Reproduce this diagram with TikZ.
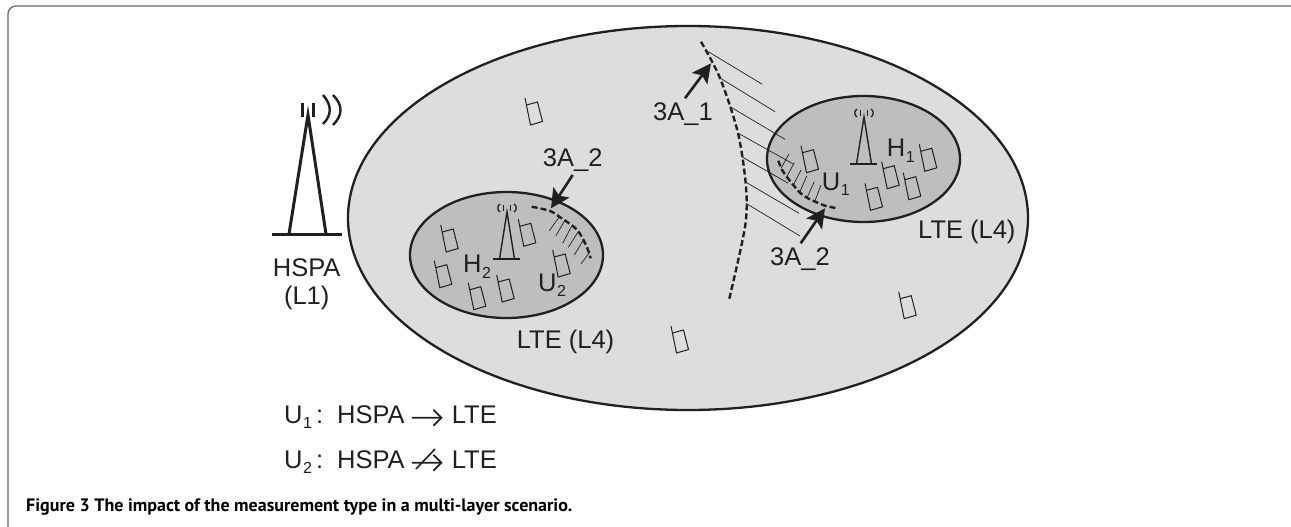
\documentclass[tikz,border=0pt]{standalone}
\usepackage{fontspec}
\setmainfont{Liberation Sans}
\newfontfamily\capfont{PT Sans}
\usetikzlibrary{arrows.meta}
\definecolor{lightg}{HTML}{DCDDDF}
\definecolor{darkg}{HTML}{BCBEC0}
\definecolor{ink}{HTML}{231F20}
\tikzset{
  x=1pt,y=-1pt,
  lab/.style={font=\fontsize{25.5}{28}\selectfont,text=ink,inner sep=0pt,anchor=base west},
  cell/.style={draw=ink,line width=2.3pt},
  boundary/.style={ink,line width=2.4pt,dash pattern=on 6pt off 3pt},
  hatchl/.style={ink,line width=.7pt},
  bigarrow/.style={ink,line width=2.6pt,-{Stealth[length=19pt,width=19pt,inset=4pt]}},
  legarrow/.style={ink,line width=1.8pt,-{Straight Barb[length=8pt,width=16pt]}},
}
\newcommand{\subl}[1]{\kern.5pt\raisebox{-5.5pt}{\fontsize{16}{16}\selectfont #1}}
\begin{document}
\begin{tikzpicture}
\useasboundingbox (0,0) rectangle (1291,527);
\fill[white] (0,0) rectangle (1291,527);
\draw[color=gray!80!black,line width=1.3pt] (8,527) -- (8,14) arc[start angle=180,end angle=90,x radius=8,y radius=-8] -- (1291,6);
% cells
\path[fill=lightg,cell] (688,218) ellipse[x radius=340,y radius=192];
\path[fill=darkg,cell] (863.5,159) ellipse[x radius=96.5,y radius=63];
\path[fill=darkg,cell] (506.5,255) ellipse[x radius=96.5,y radius=63];
% big mast
\draw[ink,line width=3pt] (272,234) -- (342,234);
\draw[ink,line width=3pt] (289,234) -- (308,115) -- (326,234);
\draw[ink,line width=3pt] (302,103) -- (302,117) (313,103) -- (313,117);
\draw[ink,line width=2.4pt] (323,95) .. controls (332,105) and (332,115) .. (323,124);
\draw[ink,line width=2.4pt] (333,95) .. controls (343,105) and (343,115) .. (333,125);
% small masts
\foreach \mx/\my in {864/164,507/259}{
  \draw[ink,line width=1.4pt] ({\mx-14},\my) -- ({\mx+13},\my);
  \draw[ink,line width=1.4pt] ({\mx-7.5},\my) -- (\mx,{\my-47}) -- ({\mx+7.5},\my);
  \draw[ink,line width=1.3pt] ({\mx-3.3},{\my-54}) -- ({\mx-3.3},{\my-48}) ({\mx+3.3},{\my-54}) -- ({\mx+3.3},{\my-48});
  \draw[ink,line width=1.3pt] ({\mx-7},{\my-55}) .. controls ({\mx-10},{\my-53}) and ({\mx-10},{\my-49}) .. ({\mx-7},{\my-47});
  \draw[ink,line width=1.3pt] ({\mx+7},{\my-55}) .. controls ({\mx+10},{\my-53}) and ({\mx+10},{\my-49}) .. ({\mx+7},{\my-47});
}
% phones
\foreach \px/\py in {801/145.7,881.7/161.7,903.3/172.7,919.3/144.3,865/183.3,898.7/291.7,525/98,671/326,440.7/225,434.3/260.7,468.3/282.7,496.7/275,518.3/219.3,552.7/250}{
  \draw[ink,line width=1pt] (\px,\py) -- ({\px+5.5},{\py+27}) -- ({\px+17.5},{\py+23.5}) -- ({\px+12.5},{\py+4}) -- ({\px+1.5},{\py+7});
}
% boundaries
\draw[boundary] plot[smooth] coordinates {(701,41.7) (720,78) (738,133) (746,187) (745,227) (729,300)};
\draw[boundary] plot[smooth] coordinates {(778.3,160.7) (781.7,169.3) (786.7,176.7) (793.3,185) (800,192.7) (808,198.3) (816.7,202.3) (825,205.7) (837,208.3)};
\draw[boundary] plot[smooth] coordinates {(531.7,206.7) (550,211) (561.7,218.3) (577.3,230) (586.7,246.7) (590.7,258.3)};
% long hatching
\foreach \ax/\ay/\bx/\by in {708.3/51.7/762.3/84.3, 720/78/775/111.7, 730/106.7/785/139.3, 738.3/133.3/793.3/164, 741.7/156.7/788.3/183.3, 746/182.3/799/213.3, 746/203.3/800/236}{
  \draw[hatchl] (\ax,\ay) -- (\bx,\by);
}
% short hatching
\foreach \ax/\ay/\bx/\by in {789/154/781/168.3, 794.3/162.7/786.7/176.7, 801/170/793.3/185, 806.7/176/800/191.7, 814.3/181.7/806.7/198.3, 821/185/815/200.7,
  559/217.3/549.3/230.7, 565/220/556/235.7, 571.7/226/562.7/243.3, 578.3/231.7/568.3/247.3, 584/239/574.3/255, 590/251.7/581/264}{
  \draw[hatchl] (\ax,\ay) -- (\bx,\by);
}
% labels
\node[lab] (a1) at (653,120) {3A\_1};
\node[lab] (a2) at (770,265) {3A\_2};
\node[lab] (a3) at (542.7,166.7) {3A\_2};
\node[lab] (lte1) at (918,238) {LTE (L4)};
\node[lab] (lte2) at (516.7,348.3) {LTE (L4)};
\node[lab] (hh1) at (886.7,156.7) {H\subl{1}};
\node[lab] (uu1) at (821.7,190) {U\subl{1}};
\node[lab] (hh2) at (463,272.7) {H\subl{2}};
\node[lab] (uu2) at (538,291) {U\subl{2}};
\node[lab,anchor=base] (hs) at (306.7,276.7) {HSPA};
\node[lab,anchor=base] (ll) at (306.7,304) {(L1)};
% pointers
\coordinate (t1) at (711,63.3);
\coordinate (t2) at (825,208.3);
\coordinate (t3) at (551,208.3);
\draw[bigarrow] ([shift={(2,-3.7)}]a1.north) -- (t1);
\draw[bigarrow] ([shift={(0.7,-3.7)}]a2.north) -- (t2);
\draw[bigarrow] ([shift={(0,3)}]a3.south) -- (t3);
% legend
\node[lab] (u1) at (284,423) {U\subl{1}\kern4pt:};
\node[lab] (h1) at (337,423) {HSPA};
\node[lab] (l1) at (451.7,423) {LTE};
\node[lab] (u2) at (284,468) {U\subl{2}\kern4pt:};
\node[lab] (h2) at (337,468) {HSPA};
\node[lab] (l2) at (451.7,468) {LTE};
\draw[legarrow] ([shift={(7,3.5)}]h1.east) -- ([shift={(-9,3.5)}]l1.west);
\draw[legarrow] ([shift={(7,3.5)}]h2.east) -- ([shift={(-9,3.5)}]l2.west);
\coordinate (c1) at (416,469);
\coordinate (c2) at (435,449);
\draw[ink,line width=1.6pt] (c1) -- (c2);
% caption
\node[anchor=base west,inner sep=0pt,font=\capfont\bfseries\fontsize{18}{20}\selectfont,text=black] (cap) at (26,511) {Figure 3 The impact of the measurement type in a multi-layer scenario.};
\end{tikzpicture}
\end{document}
